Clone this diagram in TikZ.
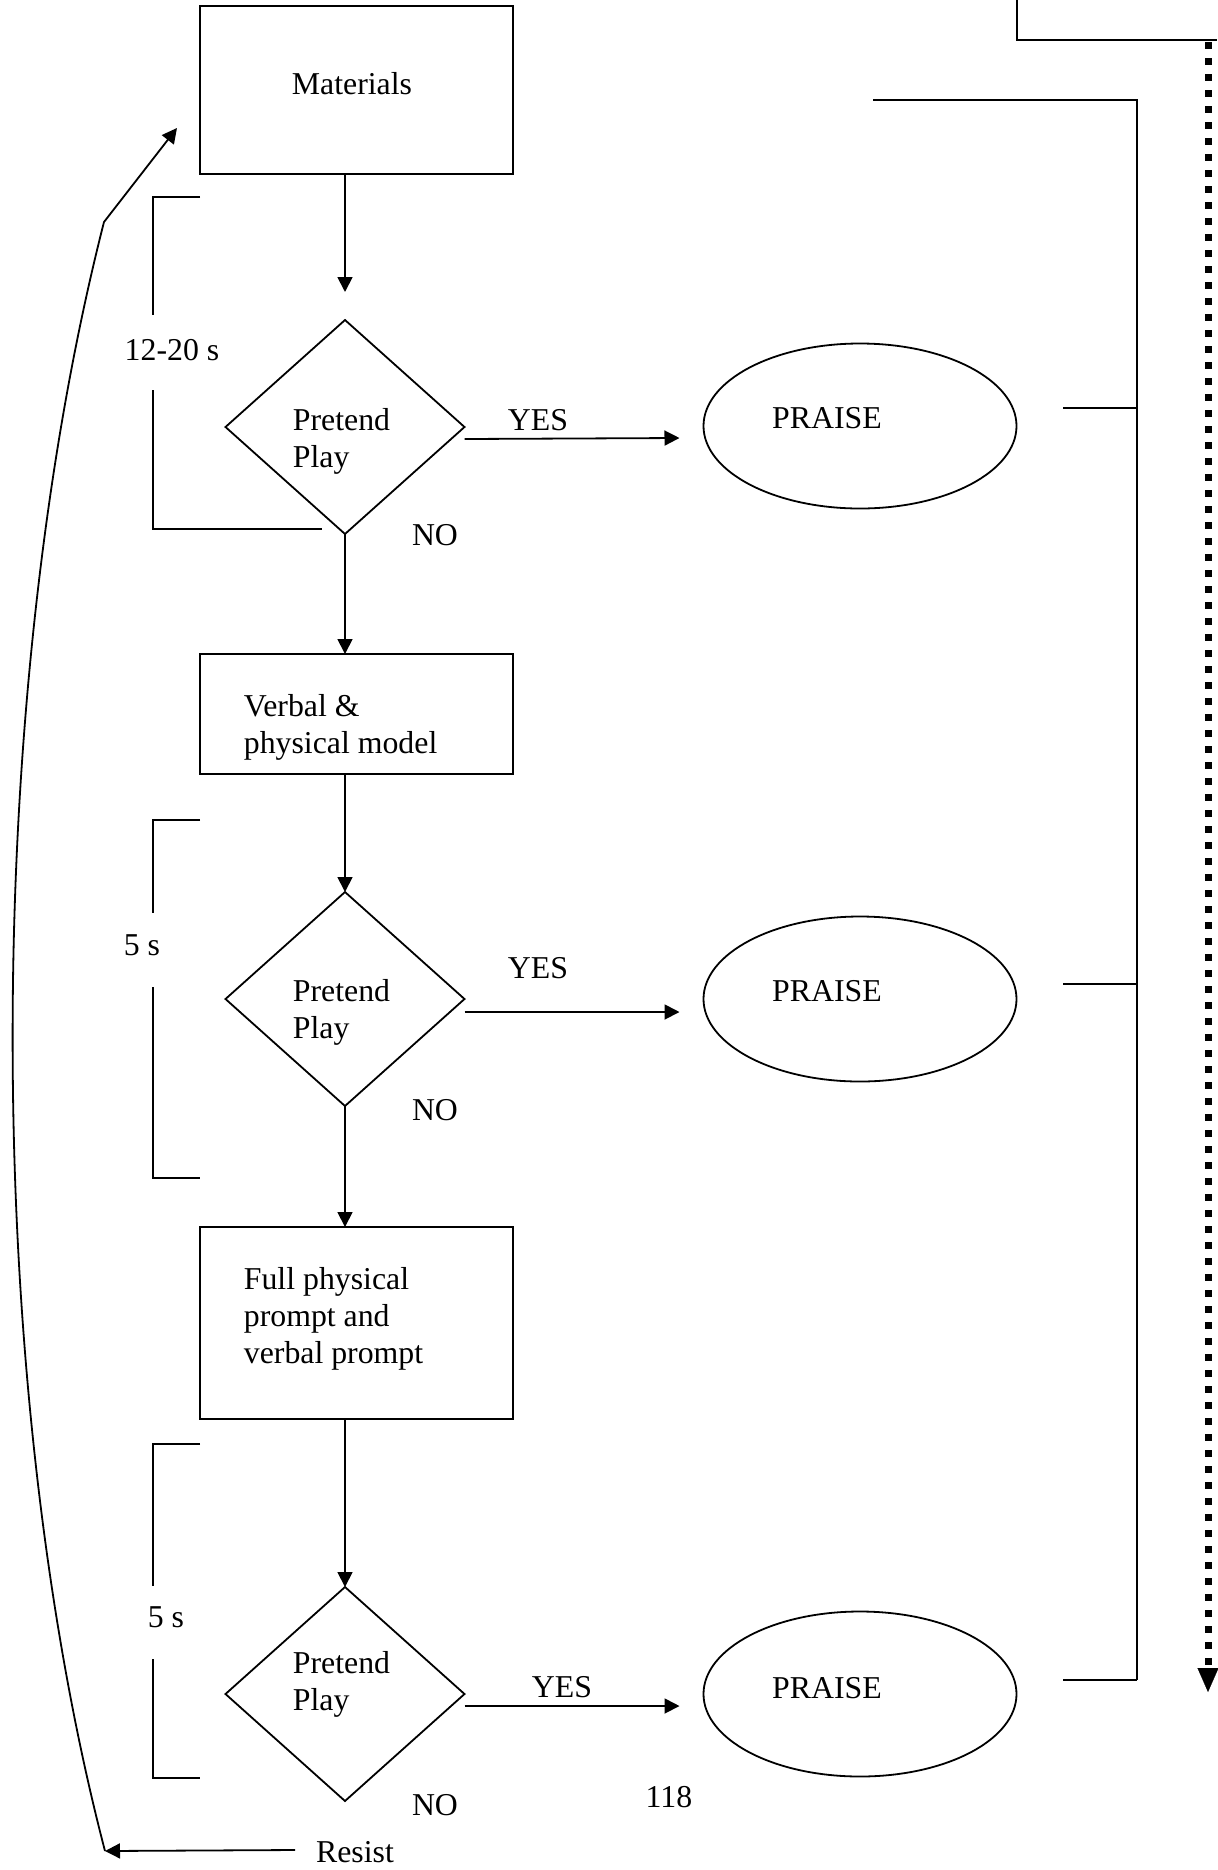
\documentclass[tikz,border=0pt]{standalone}
\usepackage{fontspec}
\setmainfont{Liberation Serif}
\usetikzlibrary{positioning,calc,arrows,arrows.meta,shapes.geometric}
\tikzset{font=\fontsize{15.9}{18.5}\selectfont}
\tikzset{
	box/.style={draw, rectangle, minimum width=156.5pt, inner sep=0pt, outer sep=0pt},
	test/.style={draw, diamond, minimum width=119.5pt, minimum height=107pt, inner sep=0pt, outer sep=0pt},
	praise/.style={draw, ellipse, minimum width=156.5pt, minimum height=82.5pt, inner sep=0pt, outer sep=0pt},
	arr/.style={-{Triangle[length=7.5pt,width=7.5pt]}},
	dots/.style={line width=3.5pt, dash pattern=on 3.5pt off 4.5pt, -{Triangle[length=12pt,width=10.5pt,line width=0.1pt]}}
}

\begin{document}
\begin{tikzpicture}[x=0.5pt, y=-0.5pt, line width=0.9pt]
	\useasboundingbox (0,0) rectangle (1217,1870);
	\begin{scope}
		\tikzstyle{every node}=[align=left, inner sep=1pt]
		% main column
		\node[box, minimum height=84pt] (mat) at (356.5,90) {};
		\node[test] (d1) at (345,427) {};
		\node[box, minimum height=60pt] (vm) at (356.5,714) {};
		\node[test] (d2) at (345,999) {};
		\node[box, minimum height=96pt] (fp) at (356.5,1323) {};
		\node[test] (d3) at (345,1694) {};

		\node (matt) at (352,84) {Materials};
		\node[anchor=west] (vmt) at (241,727) {Verbal \&\\physical model};
		\node[anchor=west] (fpt) at (241,1319) {Full physical\\prompt and\\verbal prompt};
		\node[anchor=west] (d1t) at (290,441) {Pretend\\Play};
		\node[anchor=west] (d2t) at (290,1012) {Pretend\\Play};
		\node[anchor=west] (d3t) at (290,1684) {Pretend\\Play};

		% praise
		\node[praise] (p1) at (860,426) {};
		\node[praise] (p2) at (860,999) {};
		\node[praise] (p3) at (860,1694) {};
		\node (p1t) at ($(p1)+(-33,-8)$) {PRAISE};
		\node (p2t) at ($(p2)+(-33,-8)$) {PRAISE};
		\node (p3t) at ($(p3)+(-33,-6)$) {PRAISE};

		\node (yes1) at (538,420) {YES};
		\node (yes2) at (538,968) {YES};
		\node (yes3) at (562,1687) {YES};
		\node (no1) at (435,535) {NO};
		\node (no2) at (435,1110) {NO};
		\node (no3) at (435,1805) {NO};

		\node (t1) at (172,350) {12-20 s};
		\node (t2) at (142,945) {5 s};
		\node (t3) at (166,1617) {5 s};
		\node (page) at (669,1797) {118};
		\node (resist) at (355,1852) {Resist};

		\coordinate (a1end) at (345,292);
		\draw[arr] (mat.south -| d1.north) -- (a1end);
		\draw[arr] (d1.south) -- (d1.south |- vm.north);
		\draw[arr] (vm.south -| d2.north) -- (d2.north);
		\draw[arr] (d2.south) -- (d2.south |- fp.north);
		\draw[arr] (fp.south -| d3.north) -- (d3.north);

		\draw[arr] ($(d1.east)+(0,12)$) -- ($(p1.west)+(-24,12)$);
		\draw[arr] ($(d2.east)+(0,13)$) -- ($(p2.west)+(-24,13)$);
		\draw[arr] ($(d3.east)+(0,12)$) -- ($(p3.west)+(-24,12)$);

		% time brackets
		\draw (200,197) -- (153,197) -- (153,315);
		\draw (153,390) -- (153,529) -- (322,529);
		\draw (200,820) -- (153,820) -- (153,913);
		\draw (153,987) -- (153,1178) -- (200,1178);
		\draw (200,1444) -- (153,1444) -- (153,1586);
		\draw (153,1659) -- (153,1778) -- (200,1778);

		% loop back
		\coordinate (cvBot) at (105,1851);
		\coordinate (cvKink) at (104,222);
		\coordinate (cvTop) at (177,128);
		\draw[arr] ($(resist.west)+(-18,-2)$) -- (cvBot);
		\draw[arr] (cvBot) .. controls (-18,1380) and (-18,700) .. (cvKink) -- (cvTop);

		% right side
		\draw (873,100) -- (1137,100) -- (1137,1680);
		\draw (1063,408) -- (1137,408);
		\draw (1063,984) -- (1137,984);
		\draw (1063,1680) -- (1137,1680);
		\draw (1017,0) -- (1017,40) -- (1217,40);
		\coordinate (dotS) at (1208,42);
		\coordinate (dotE) at (1208,1692);
		\draw[dots] (dotS) -- (dotE);
	\end{scope}
\end{tikzpicture}
\end{document}
